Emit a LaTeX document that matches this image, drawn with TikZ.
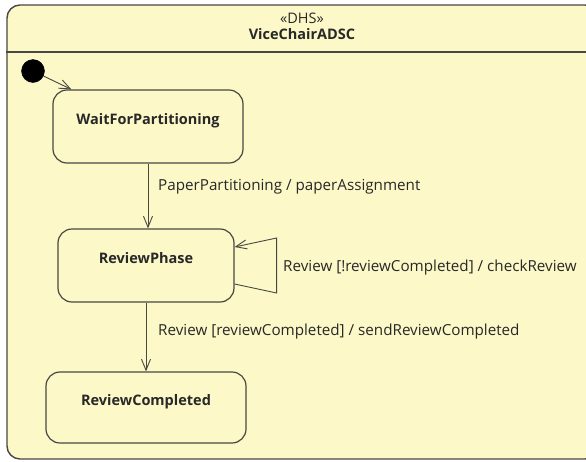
\documentclass[tikz,border=0pt]{standalone}
\usepackage{fontspec}
\setmainfont{Open Sans}
\usetikzlibrary{arrows.meta}
\definecolor{statefill}{RGB}{252,248,200}
\definecolor{lineclr}{RGB}{72,72,66}
\definecolor{txtclr}{RGB}{40,40,40}
\begin{document}
\begin{tikzpicture}[x=1pt,y=-1pt,
  every node/.style={text=txtclr},
  framebox/.style={draw=lineclr, fill=statefill, line width=1.4pt, rounded corners=13pt,
    inner sep=0pt},
  statebox/.style={draw=lineclr, fill=statefill, line width=1.2pt, rounded corners=14pt,
    inner sep=0pt, text height=11pt, text depth=14.6pt,
    font=\fontsize{14.5}{16}\selectfont\bfseries},
  trans/.style={draw=lineclr, line width=0.9pt,
    -{Straight Barb[length=11pt,width=9pt,line width=0.9pt]}},
  lbl/.style={anchor=west, inner sep=0pt, font=\fontsize{15.2}{17}\selectfont},
  title/.style={inner sep=0pt, font=\fontsize{14.5}{16}\selectfont}]
\useasboundingbox (0,0) rectangle (586,461);
\fill[white] (0,0) rectangle (586,461);

% state machine frame with its header compartment
\begin{scope}
  \clip (0,0) rectangle (586,461);
  \node[framebox, minimum width=591pt, minimum height=454pt] (sm) at (302.5,232) {};
  \draw[draw=lineclr, line width=1.4pt] (sm.west |- 0,52) -- (sm.east |- 0,52);
\end{scope}
\node[title] (stereo) at (302,18) {«DHS»};
\node[title, font=\fontsize{14.5}{16}\selectfont\bfseries] (smname) at (302,34) {ViceChairADSC};

% states
\node[circle, fill=black, draw=black, minimum size=23pt, inner sep=0pt] (init) at (33,71) {};
\node[statebox, minimum width=190pt, minimum height=73pt] (wait) at (148,126.5) {WaitForPartitioning};
\node[statebox, minimum width=176pt, minimum height=73pt] (review) at (146,265.5) {ReviewPhase};
\node[statebox, minimum width=200pt, minimum height=71pt] (done) at (146,407.5) {ReviewCompleted};

% transitions
\draw[trans] (init) -- ([xshift=19pt]wait.north west);
\draw[trans] (wait.south) -- (wait.south |- review.north);
\draw[trans] (review.south) -- (review.south |- done.north);
\draw[trans] ([yshift=-18.5pt]review.east) -- ++(42,9) -- ++(0,-55) -- ([yshift=18.5pt]review.east);

% transition labels
\node[lbl] (l1) at (158,187) {PaperPartitioning / paperAssignment};
\node[lbl] (l2) at (283,268) {Review [!reviewCompleted] / checkReview};
\node[lbl] (l3) at (158,332) {Review [reviewCompleted] / sendReviewCompleted};
\end{tikzpicture}
\end{document}
